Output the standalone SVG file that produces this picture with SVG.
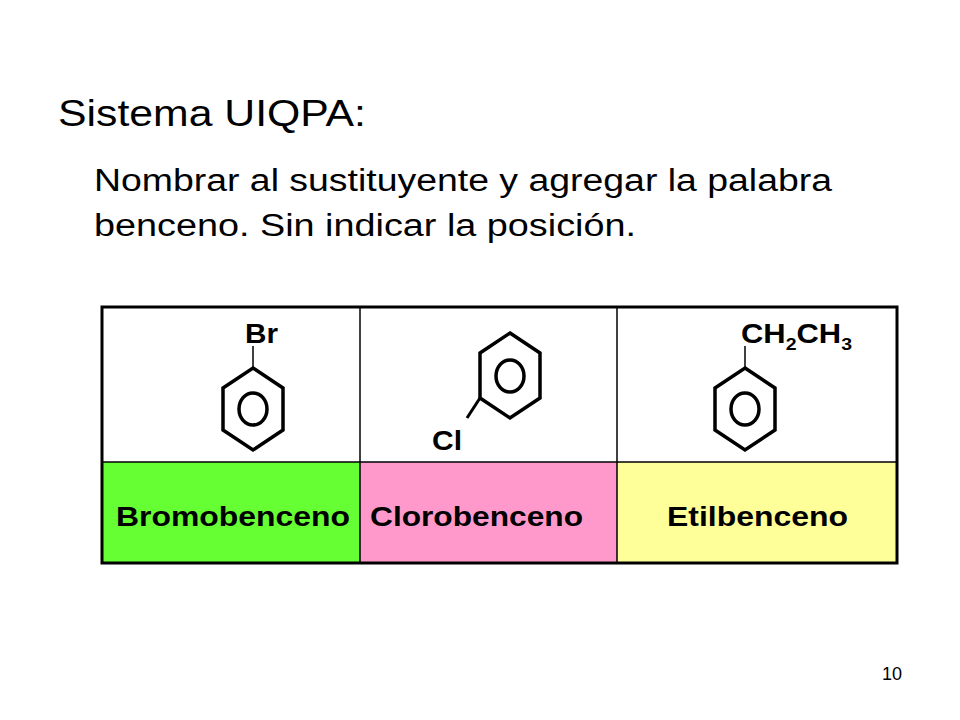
<svg xmlns="http://www.w3.org/2000/svg" width="960" height="720" viewBox="0 0 960 720">
<style>
text{font-family:"Liberation Sans",Arial,sans-serif;fill:#000}
.b{font-weight:bold;font-size:27px}
.ring{fill:none;stroke:#000;stroke-width:3.5}
.l{stroke:#000;stroke-width:1.5}
</style>
<rect width="960" height="720" fill="#fff"/>
<text x="58" y="126" font-size="37" textLength="308" lengthAdjust="spacingAndGlyphs">Sistema UIQPA:</text>
<text x="94" y="191" font-size="31" textLength="738" lengthAdjust="spacingAndGlyphs">Nombrar al sustituyente y agregar la palabra</text>
<text x="94" y="236" font-size="31" textLength="542" lengthAdjust="spacingAndGlyphs">benceno. Sin indicar  la posición.</text>
<g id="table">
<rect x="102" y="462" width="258" height="101" fill="#66ff33"/>
<rect x="360" y="462" width="257" height="101" fill="#ff99cc"/>
<rect x="617" y="462" width="280" height="101" fill="#ffff99"/>
<line class="l" x1="102" y1="462" x2="897" y2="462" stroke="#777"/>
<line class="l" x1="360" y1="307" x2="360" y2="563" stroke="#777"/>
<line class="l" x1="617" y1="307" x2="617" y2="563" stroke="#777"/>
<rect x="102" y="307" width="795" height="256" fill="none" stroke="#000" stroke-width="3"/>
</g>
<g id="bromo">
<line class="l" x1="253" y1="346" x2="253" y2="368"/>
<polygon class="ring" points="253,368 283,388 283,430 253,450 223,430 223,388"/>
<ellipse class="ring" cx="253" cy="409" rx="14" ry="16"/>
<text class="b" x="245" y="343" textLength="33" lengthAdjust="spacingAndGlyphs">Br</text>
<text class="b" x="116" y="526" textLength="234" lengthAdjust="spacingAndGlyphs">Bromobenceno</text>
</g>
<g id="cloro">
<polygon class="ring" points="510,333 540,353 540,398 510,418 480,398 480,353"/>
<ellipse class="ring" cx="510" cy="376" rx="14" ry="16"/>
<line x1="480" y1="398" x2="467" y2="418" stroke="#000" stroke-width="3"/>
<text class="b" x="432" y="450" textLength="30" lengthAdjust="spacingAndGlyphs">Cl</text>
<text class="b" x="370" y="526" textLength="213" lengthAdjust="spacingAndGlyphs">Clorobenceno</text>
</g>
<g id="etil">
<line class="l" x1="745" y1="346" x2="745" y2="368"/>
<polygon class="ring" points="745,368 775,388 775,430 745,450 715,430 715,388"/>
<ellipse class="ring" cx="745" cy="409" rx="14" ry="16"/>
<text class="b" x="741" y="343" textLength="111" lengthAdjust="spacingAndGlyphs">CH<tspan font-size="17" dy="7">2</tspan><tspan dy="-7">CH</tspan><tspan font-size="17" dy="7">3</tspan></text>
<text class="b" x="667" y="526" textLength="181" lengthAdjust="spacingAndGlyphs">Etilbenceno</text>
</g>
<text x="882" y="680" font-size="18">10</text>
</svg>
